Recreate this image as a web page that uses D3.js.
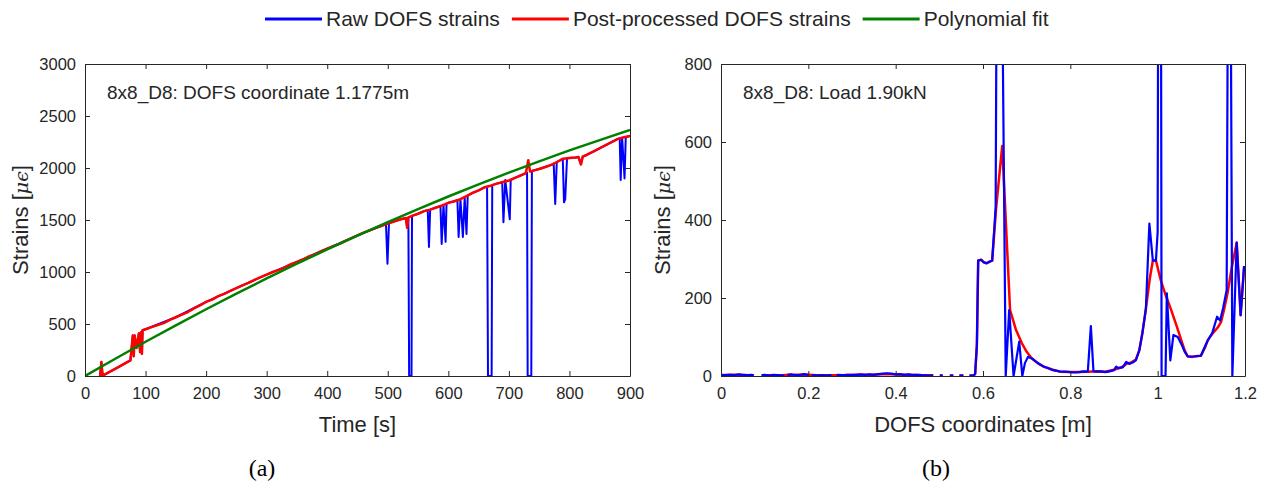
<!DOCTYPE html>
<html>
<head>
<meta charset="utf-8">
<script src="https://cdn.jsdelivr.net/npm/d3@7/dist/d3.min.js"></script>
<style>
  body { margin: 0; background: #fff; }
  text { font-family: "Liberation Sans", Arial, sans-serif; fill: #262626; }
</style>
</head>
<body>
<div id="chart"></div>
<script>
// ---- data ----
const legendLabels = ['Raw DOFS strains', 'Post-processed DOFS strains', 'Polynomial fit'];
const seriesColours = ['#0000ff', '#ff0000', '#008000'];

// (a) strain history at DOFS coordinate 1.1775 m, [time s, strain]
const timeTicks = [0, 100, 200, 300, 400, 500, 600, 700, 800, 900];
const strainTicksA = [0, 500, 1000, 1500, 2000, 2500, 3000];

const postA = [
  [25,0],[27,135],[29,5],[33,15],[55,85],[75,150],[79,390],[80.5,190],[82,390],[85,270],[89,410],
  [91,230],[92.5,420],[94,215],[95,440],[100,450],[110,470],[120,490],[130,508],[140,540],[150,565],
  [160,590],[170,615],[180,650],[190,680],[200,712],[210,735],[220,768],[230,790],[240,818],[250,845],
  [260,872],[270,895],[280,925],[290,950],[300,975],[310,1000],[320,1020],[330,1045],[340,1075],
  [350,1098],[360,1120],[370,1150],[380,1172],[390,1200],[400,1225],[410,1248],[420,1270],[430,1300],
  [440,1325],[450,1352],[460,1378],[470,1400],[480,1425],[490,1445],[500,1465],[510,1485],[520,1505],
  [530,1520],[532,1425],[534,1525],[540,1540],[550,1560],[560,1585],[570,1600],[580,1620],[590,1640],
  [600,1665],[610,1680],[620,1700],[630,1730],[640,1760],[650,1785],[660,1815],[670,1830],[680,1850],
  [690,1865],[700,1880],[710,1905],[720,1930],[728,1950],[732,2075],[735,1965],[740,1975],[750,1990],
  [760,2010],[770,2030],[780,2060],[790,2090],[800,2095],[810,2100],[815,2105],[819,2035],[822,2110],
  [830,2130],[840,2160],[850,2190],[860,2220],[870,2250],[880,2280],[890,2295],[900,2308]
];

const rawA = [
  [25,0],[27,135],[29,5],[33,15],[55,85],[75,150],[79,390],[80.5,190],[82,390],[85,270],[89,410],
  [91,230],[92.5,420],[94,215],[95,440],[100,450],[150,565],[200,712],[250,845],[300,975],[350,1098],
  [400,1225],[450,1352],[490,1445],[497,1462],[499.5,1080],[502,1470],[510,1485],[520,1505],[530,1520],
  [532,1425],[534,1525],[535.3,0],[539.2,0],[540,1540],[550,1560],[560,1585],[566,1595],[568,1240],
  [570,1600],[580,1620],[587,1635],[589,1270],[592,1645],[595.5,1290],[597,1655],[600,1665],[610,1680],
  [615,1690],[617,1336],[620,1700],[624,1336],[627,1715],[630,1365],[632,1735],[640,1760],[650,1785],
  [660,1815],[664,1820],[665.5,0],[671.5,0],[672.5,1835],[680,1850],[689,1862],[691,1478],[694,1885],
  [701.5,1507],[703,1885],[710,1905],[720,1930],[728,1950],[730,1955],[731,0],[737,0],[738,1968],
  [740,1975],[750,1990],[760,2010],[770,2030],[774,2040],[776.5,1654],[779,2050],[780,2060],[789,2088],
  [791,1670],[793,1700],[796,2093],[800,2095],[810,2100],[815,2105],[819,2035],[822,2110],[830,2130],
  [840,2160],[850,2190],[860,2220],[870,2250],[880,2280],[883,2285],[884.6,1885],[887,2290],[891,1900],
  [893,2297],[900,2308]
];

const fitA = [
  [0,0],[50,166],[100,329],[150,487],[200,642],[250,792],[300,938],[350,1080],[400,1217],[450,1350],
  [500,1480],[550,1605],[600,1726],[650,1843],[700,1955],[750,2064],[800,2169],[850,2268],[900,2365]
];

// (b) strain profile at load 1.90 kN, [coordinate m, strain]
const coordTicks = [0, 0.2, 0.4, 0.6, 0.8, 1, 1.2];
const strainTicksB = [0, 200, 400, 600, 800];

const rawB = [
  [0,3],[0.01,2],[0.02,3],[0.03,2],[0.04,4],[0.05,3],[0.06,2],[0.07,3],[0.075,2],[0.08,null],
  [0.093,2],[0.10,3],[0.11,1],[0.12,3],[0.13,2],[0.14,1],[0.145,2],[0.147,null],[0.152,3],[0.16,4],
  [0.17,2],[0.18,3],[0.19,5],[0.20,3],[0.202,null],[0.208,2],[0.22,1],[0.23,2],[0.24,1],[0.253,2],
  [0.256,null],[0.265,3],[0.28,2],[0.29,3],[0.30,2],[0.31,3],[0.32,4],[0.33,3],[0.34,4],[0.35,3],
  [0.36,5],[0.37,6],[0.38,7],[0.39,6],[0.40,4],[0.41,5],[0.42,3],[0.43,4],[0.44,2],[0.45,3],[0.46,2],
  [0.474,1],[0.486,1],[0.487,null],[0.501,1],[0.508,1],[0.509,null],[0.524,1],[0.532,1],[0.533,null],
  [0.546,1],[0.555,1],[0.556,null],[0.569,1],[0.578,1],[0.582,5],[0.586,80],[0.589,296],[0.596,298],
  [0.601,292],[0.608,289],[0.615,293],[0.621,296],[0.626,380],[0.629,434],[0.633,1500],[0.640,1500],
  [0.652,0],[0.660,169],[0.670,0],[0.683,88],[0.690,0],[0.696,33],[0.703,49],[0.712,45],[0.72,38],
  [0.73,30],[0.739,24],[0.75,20],[0.76,15],[0.77,13],[0.78,11],[0.79,11],[0.80,10],[0.81,9],[0.82,10],
  [0.83,12],[0.84,11],[0.847,128],[0.853,12],[0.86,11],[0.87,12],[0.88,10],[0.89,12],[0.90,15],
  [0.905,24],[0.91,20],[0.92,22],[0.928,36],[0.935,31],[0.945,36],[0.95,40],[0.958,66],[0.965,110],
  [0.973,172],[0.981,391],[0.989,296],[0.996,296],[1.000,370],[1.002,1500],[1.007,1500],[1.009,0],
  [1.018,0],[1.021,212],[1.029,40],[1.036,105],[1.046,100],[1.055,80],[1.062,62],[1.069,50],[1.08,50],
  [1.09,51],[1.099,52],[1.108,75],[1.115,92],[1.125,110],[1.136,152],[1.143,142],[1.150,175],
  [1.158,220],[1.1625,1500],[1.1655,1500],[1.171,0],[1.181,342],[1.190,156],[1.198,282]
];

const postB = [
  [0,2],[0.02,3],[0.04,3],[0.06,2],[0.075,2],[0.08,null],[0.093,2],[0.10,2],[0.12,2],[0.14,2],
  [0.16,3],[0.18,3],[0.20,3],[0.22,2],[0.24,2],[0.26,2],[0.28,2],[0.30,3],[0.32,3],[0.34,3],[0.36,4],
  [0.38,5],[0.40,4],[0.42,3],[0.44,3],[0.46,2],[0.474,2],[0.486,2],[0.487,null],[0.501,1],[0.508,1],
  [0.509,null],[0.524,1],[0.532,1],[0.533,null],[0.546,1],[0.555,1],[0.556,null],[0.569,1],[0.578,1],
  [0.582,5],[0.586,80],[0.589,296],[0.596,298],[0.601,292],[0.608,289],[0.615,293],[0.621,296],
  [0.63,430],[0.644,590],[0.662,169],[0.675,120],[0.689,84],[0.70,62],[0.712,45],[0.725,33],[0.739,24],
  [0.76,16],[0.777,11],[0.80,10],[0.82,10],[0.84,11],[0.86,12],[0.88,11],[0.90,16],[0.91,20],[0.92,24],
  [0.93,32],[0.94,35],[0.95,42],[0.958,66],[0.965,110],[0.973,172],[0.982,250],[0.989,296],[0.996,296],
  [1.007,246],[1.019,205],[1.031,169],[1.043,130],[1.054,92],[1.062,65],[1.069,50],[1.08,49],[1.09,51],
  [1.099,52],[1.108,72],[1.115,92],[1.125,108],[1.138,125],[1.145,138],[1.152,170],[1.160,212],
  [1.170,280],[1.181,342],[1.190,156],[1.198,282]
];

// ---- layout ----
const width = 1268;
const height = 489;
const plotTop = 64;
const plotHeight = 312;
const tickLen = 5;
const axisColour = '#262626';

const svg = d3.select('#chart')
  .append('svg')
    .attr('width', width)
    .attr('height', height);

function drawPanel(p) {
  const xScale = d3.scaleLinear().domain(p.xDomain).range([0, p.w]);
  const yScale = d3.scaleLinear().domain(p.yDomain).range([plotHeight, 0]);

  const g = svg.append('g')
    .attr('transform', `translate(${p.left}, ${plotTop})`);

  svg.append('clipPath').attr('id', p.id + '-clip')
    .append('rect').attr('width', p.w).attr('height', plotHeight);

  const line = d3.line()
    .defined(d => d[1] != null)
    .x(d => xScale(d[0]))
    .y(d => yScale(d[1]));

  const lines = g.append('g').attr('clip-path', `url(#${p.id}-clip)`);
  p.series.forEach(s => {
    lines.append('path')
      .datum(s.data)
      .attr('fill', 'none')
      .attr('stroke', s.colour)
      .attr('stroke-width', s.width)
      .attr('stroke-linejoin', 'round')
      .attr('d', line);
  });

  // axes, ticks pointing inwards, box all round
  const bottom = g.append('g')
    .attr('transform', `translate(0, ${plotHeight})`)
    .call(d3.axisBottom(xScale).tickValues(p.xTicks).tickFormat(p.xFormat)
      .tickSizeInner(-tickLen).tickSizeOuter(0).tickPadding(11));
  const left = g.append('g')
    .call(d3.axisLeft(yScale).tickValues(p.yTicks).tickFormat(d3.format('d'))
      .tickSizeInner(-tickLen).tickSizeOuter(0).tickPadding(9));
  const topAxis = g.append('g')
    .call(d3.axisTop(xScale).tickValues(p.xTicks).tickFormat('')
      .tickSizeInner(-tickLen).tickSizeOuter(0));
  const right = g.append('g')
    .attr('transform', `translate(${p.w}, 0)`)
    .call(d3.axisRight(yScale).tickValues(p.yTicks).tickFormat('')
      .tickSizeInner(-tickLen).tickSizeOuter(0));

  [bottom, left, topAxis, right].forEach(a => {
    a.selectAll('path, line').attr('stroke', axisColour);
    a.selectAll('text')
      .attr('fill', axisColour)
      .style('font-size', '16.5px')
      .style('font-family', '"Liberation Sans", Arial, sans-serif');
  });

  // annotation
  g.append('text')
    .attr('x', 22)
    .attr('y', 35)
    .style('font-size', '19px')
    .text(p.note);

  // x axis title
  g.append('text')
    .attr('x', p.w / 2)
    .attr('y', plotHeight + 56)
    .attr('text-anchor', 'middle')
    .style('font-size', '22px')
    .text(p.xLabel);

  // y axis title
  const yl = svg.append('text')
    .attr('transform', `translate(${p.yLabelX}, ${plotTop + plotHeight / 2}) rotate(-90)`)
    .attr('text-anchor', 'middle')
    .style('font-size', '22px');
  yl.append('tspan').text('Strains [');
  yl.append('tspan')
    .style('font-family', '"DejaVu Serif", serif')
    .style('font-style', 'italic')
    .style('font-size', '19px')
    .text('\u03bc\u03f5');
  yl.append('tspan').text(']');

  // sub caption
  svg.append('text')
    .attr('x', p.captionX)
    .attr('y', 476)
    .attr('text-anchor', 'middle')
    .style('font-family', '"Liberation Serif", "Times New Roman", serif')
    .style('font-size', '24px')
    .style('fill', '#000')
    .text(p.caption);
}

drawPanel({
  id: 'a', left: 85, w: 545,
  xDomain: [0, 900], yDomain: [0, 3000],
  xTicks: timeTicks, yTicks: strainTicksA, xFormat: d3.format('d'),
  series: [
    { data: rawA, colour: seriesColours[0], width: 2 },
    { data: postA, colour: seriesColours[1], width: 2.5 },
    { data: fitA, colour: seriesColours[2], width: 2.5 }
  ],
  note: '8x8_D8: DOFS coordinate 1.1775m',
  xLabel: 'Time [s]', yLabelX: 28, caption: '(a)', captionX: 262
});

drawPanel({
  id: 'b', left: 721, w: 524,
  xDomain: [0, 1.2], yDomain: [0, 800],
  xTicks: coordTicks, yTicks: strainTicksB, xFormat: d => String(+d.toFixed(1)),
  series: [
    { data: postB, colour: seriesColours[1], width: 2.5 },
    { data: rawB, colour: seriesColours[0], width: 2.2 }
  ],
  note: '8x8_D8: Load 1.90kN',
  xLabel: 'DOFS coordinates [m]', yLabelX: 670, caption: '(b)', captionX: 936
});

// legend across the top
let lx = 265;
legendLabels.forEach((label, i) => {
  svg.append('line')
    .attr('x1', lx).attr('x2', lx + 57)
    .attr('y1', 19).attr('y2', 19)
    .attr('stroke', seriesColours[i])
    .attr('stroke-width', 3);
  const t = svg.append('text')
    .attr('x', lx + 61)
    .attr('y', 26)
    .style('font-size', '21px')
    .text(label);
  lx += 61 + t.node().getComputedTextLength() + 12;
});
</script>
</body>
</html>
